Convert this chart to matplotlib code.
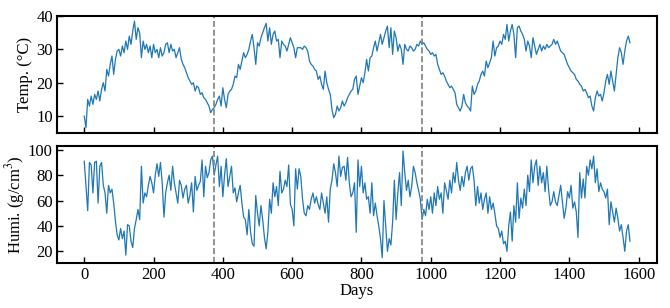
import numpy as np
import matplotlib
matplotlib.use('Agg')
import matplotlib.pyplot as plt

# 数据：每5天读一个值
temp = [
    10, 6.5, 15, 13, 16, 13.5, 16.5, 15, 17.5, 14.5, 18, 20, 17.5, 24, 22, 25.5, 28, 22.5, 27, 29.5,
    30, 28, 31, 29, 32.5, 30, 34, 31.5, 35.5, 38.5, 33, 36.5, 35, 27.5, 32.5, 30, 31.5, 29, 31, 27.5,
    31.5, 29, 30, 27.5, 30.5, 28, 29, 31.5, 32, 29, 31.5, 29.5, 30, 27.5, 29, 30.5, 27, 25.5, 24.5, 23,
    21.5, 20.5, 19.5, 20, 17.5, 19, 18.5, 16.5, 17, 15.5, 15, 14, 13, 11, 12, 12.5, 13.5, 15, 16, 13,
    18.5, 15, 12.5, 16.5, 17.5, 18, 19.5, 22, 21.5, 25.5, 24, 26.5, 29, 27.5, 28.5, 30, 32.5, 34.5, 30.5, 25.5,
    32, 31, 33.5, 35, 36.5, 37.8, 32.5, 36.5, 31.5, 34.5, 35.5, 32.5, 33, 27.5, 32.5, 31.5, 31, 29.5, 31.5, 33.5,
    32, 30.5, 27.5, 30.5, 30.5, 30.5, 30, 31, 30.5, 29.5, 26.5, 25.5, 25, 24, 23.5, 21, 22, 19.5, 18, 23.5,
    20, 18, 16.5, 12, 9.5, 10.5, 13, 11.5, 12.5, 14.5, 13, 14, 15.5, 16.5, 17.5, 18, 21, 22, 16.5, 19,
    21.5, 20, 23, 27, 23.5, 27.5, 28, 30.5, 32.5, 29.5, 32, 34.5, 31.5, 33.5, 35.5, 37, 30.5, 36.5, 28.5, 35.5,
    33.5, 29.5, 31.5, 30, 25.5, 31.5, 30, 29.5, 31, 30.5, 29.5, 30, 31.5, 31, 32.5, 31.5, 32, 31, 30, 29.5,
    28.5, 29, 28, 28.5, 25.5, 24, 22.5, 23, 22, 20.5, 19.5, 18.5, 19, 18, 17, 13.5, 12.5, 11.5, 13, 16.5,
    14, 13, 12.5, 11.5, 19, 16.5, 17.5, 19.5, 20.5, 22.5, 23.5, 22, 26.5, 24.5, 26, 27.5, 32.5, 28, 30.5, 31,
    32.5, 31.5, 34.5, 33, 37.5, 32.5, 35.5, 37.5, 34.5, 27.5, 36.5, 37, 35.5, 34.5, 33, 29.5, 32.5, 31, 27.5, 33.5,
    31, 28.5, 30, 31.5, 29.5, 31, 30, 31.5, 30.5, 31, 31.5, 33, 31.5, 32.5, 31, 29.5, 29, 28.5, 27, 25.5,
    24.5, 23.5, 23, 22.5, 21, 20.5, 19.5, 19, 17.5, 18, 17, 15.5, 16, 13, 11.5, 15.5, 17.5, 16, 16.5, 14.5,
    17, 20.5, 22.5, 19.5, 23.5, 20.5, 17.5, 22.5, 27.5, 30.5, 29, 25.5, 29.5, 32.5, 34, 32,
]

humi = [
    91, 72, 52, 90, 88, 66, 90, 91, 58, 87, 90, 72, 66, 50, 72, 66, 69, 58, 44, 33,
    29, 38, 30, 36, 17, 41, 40, 28, 23, 38, 45, 53, 45, 87, 58, 66, 63, 72, 79, 74,
    66, 80, 89, 79, 90, 74, 47, 66, 74, 80, 68, 87, 74, 66, 58, 76, 72, 62, 69, 72,
    58, 64, 74, 51, 79, 68, 72, 75, 92, 63, 87, 78, 82, 92, 95, 80, 88, 95, 71, 87,
    63, 80, 93, 71, 79, 87, 66, 70, 59, 66, 72, 58, 47, 45, 33, 53, 35, 26, 24, 64,
    50, 40, 56, 45, 31, 22, 35, 61, 50, 74, 63, 71, 56, 83, 66, 69, 76, 71, 88, 57,
    53, 40, 85, 69, 85, 79, 61, 50, 48, 56, 53, 61, 66, 58, 63, 57, 53, 66, 58, 50,
    63, 43, 69, 76, 89, 82, 71, 95, 79, 86, 87, 76, 94, 74, 63, 66, 74, 35, 92, 71,
    87, 66, 74, 61, 63, 50, 74, 48, 58, 48, 40, 30, 15, 60, 40, 20, 30, 25, 43, 76,
    45, 66, 82, 56, 99, 82, 68, 76, 63, 71, 87, 82, 74, 68, 61, 45, 53, 48, 61, 53,
    63, 50, 66, 56, 71, 61, 66, 50, 74, 68, 61, 76, 66, 82, 74, 90, 76, 68, 79, 71,
    82, 87, 76, 85, 87, 76, 56, 71, 58, 66, 53, 61, 66, 50, 63, 53, 58, 50, 40, 38,
    31, 36, 26, 28, 20, 40, 51, 28, 56, 43, 74, 46, 62, 54, 69, 56, 80, 67, 92, 74,
    87, 92, 72, 87, 74, 82, 67, 87, 69, 56, 59, 67, 59, 56, 64, 72, 59, 46, 54, 67,
    62, 72, 54, 59, 51, 31, 82, 62, 77, 62, 87, 80, 92, 85, 95, 74, 85, 67, 74, 69,
    67, 62, 69, 41, 59, 51, 43, 54, 46, 36, 41, 31, 20, 36, 41, 28,
]

step = 5
split_days = [375, 975]

days_t = np.arange(len(temp)) * step
days_h = np.arange(len(humi)) * step

plt.rcParams['font.family'] = ['Liberation Serif', 'DejaVu Serif']
plt.rcParams['mathtext.fontset'] = 'stix'
plt.rcParams['font.size'] = 12

fig = plt.figure(figsize=(6.7, 3.08), dpi=100)
ax1 = fig.add_axes([0.085, 0.568, 0.896, 0.381])
ax2 = fig.add_axes([0.085, 0.146, 0.896, 0.381], sharex=ax1)

ax1.plot(days_t, temp, color='#1f77b4', lw=0.9)
ax2.plot(days_h, humi, color='#1f77b4', lw=0.9)

for ax in (ax1, ax2):
    for d in split_days:
        ax.axvline(d, color='gray', ls='--', lw=1.2)
    ax.tick_params(direction='in', length=4, width=1, pad=3)
    for sp in ax.spines.values():
        sp.set_linewidth(1.5)

ax1.set_yticks([10, 20, 30, 40])
ax1.tick_params(labelbottom=False)
ax2.set_yticks([20, 40, 60, 80, 100])
ax2.set_xticks([0, 200, 400, 600, 800, 1000, 1200, 1400, 1600])

ax1.set_ylabel('Temp. (°C)', labelpad=2)
ax2.set_ylabel('Humi. (g/cm$^3$)', labelpad=1)
ax2.set_xlabel('Days', labelpad=0)

fig.savefig('out.png', dpi=100)
